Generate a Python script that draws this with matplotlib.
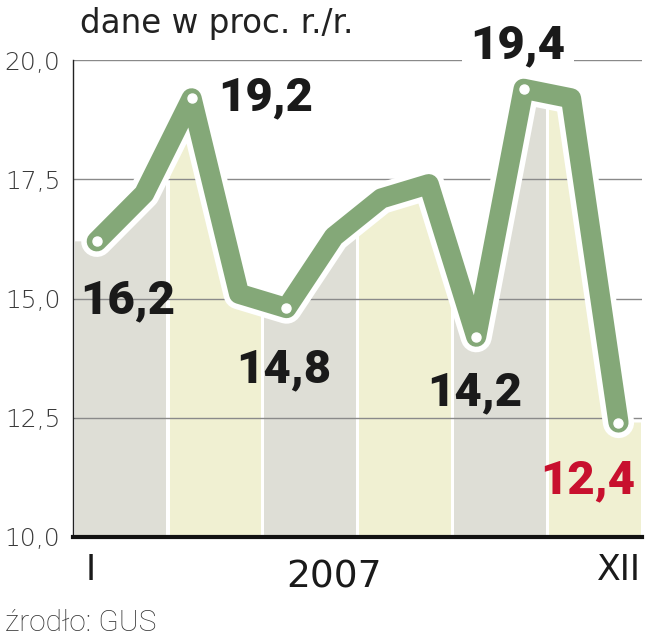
import numpy as np
import matplotlib.pyplot as plt
from matplotlib import patheffects as pe

# ---- data ----
months = ['I', 'II', 'III', 'IV', 'V', 'VI', 'VII', 'VIII', 'IX', 'X', 'XI', 'XII']
values = [16.2, 17.2, 19.2, 15.1, 14.8, 16.3, 17.1, 17.4, 14.2, 19.4, 19.2, 12.4]
label_idx = [0, 2, 4, 8, 9, 11]
label_txt = ['16,2', '19,2', '14,8', '14,2', '19,4', '12,4']
yticks = [10.0, 12.5, 15.0, 17.5, 20.0]
ytick_labels = ['10,0', '12,5', '15,0', '17,5', '20,0']
year = '2007'
title = 'dane w proc. r./r.'
source = 'źrodło: GUS'

GREEN = '#84a878'
GRAY = '#deded6'
YELLOW = '#f0f0d2'
RED = '#c8102e'
DARK = '#1a1a1a'

fig = plt.figure(figsize=(6.58, 6.40), dpi=100)
ax = fig.add_axes([0.111, 0.161, 0.865, 0.745])
x = np.arange(len(values))
ax.set_xlim(-0.5, len(values) - 0.5)
ax.set_ylim(10, 20)

# area under the line, used as a clip for the coloured month bands
xe = np.concatenate([[-0.5], x, [len(values) - 0.5]])
ye = np.concatenate([[values[0]], values, [values[-1]]])
poly = ax.fill_between(xe, ye, 10, color='none', lw=0)
clip_path = poly.get_paths()[0]
for i in range(0, len(values), 2):
    col = GRAY if (i // 2) % 2 == 0 else YELLOW
    span = ax.axvspan(i - 0.5 + 0.035, i + 1.5 - 0.035, color=col, lw=0, zorder=1)
    span.set_clip_path(clip_path, ax.transData)

# grid
for yt in yticks[1:]:
    ax.axhline(yt, color='#8a8a8a', lw=1.0, zorder=2)

# line with white outline
ax.plot(x, values, color=GREEN, lw=14.5, solid_joinstyle='round', solid_capstyle='round', zorder=4,
        path_effects=[pe.Stroke(linewidth=22.5, foreground='white'), pe.Normal()])
ax.plot(x[label_idx], np.array(values)[label_idx], 'o', ms=6.5, color='white', zorder=5)

# value labels
lab_pos = {0: (-0.35, 14.70), 2: (2.56, 18.95), 4: (2.94, 13.25),
           8: (6.96, 12.77), 9: (7.87, 20.04), 11: (9.35, 10.92)}
for i, t in zip(label_idx, label_txt):
    px, py = lab_pos[i]
    c = RED if i == len(values) - 1 else DARK
    kw = {}
    if i == 9:
        kw['bbox'] = dict(facecolor='white', edgecolor='none', pad=6)
    ax.text(px, py, t, fontsize=34, fontweight='black', family='Roboto', color=c,
            ha='left', va='baseline', zorder=6, **kw)

# axes styling
for s in ['top', 'right']:
    ax.spines[s].set_visible(False)
ax.spines['left'].set_linewidth(1.0)
ax.spines['left'].set_color('#222222')
ax.spines['bottom'].set_linewidth(3.0)
ax.spines['bottom'].set_color('#111111')
ax.spines['left'].set_zorder(7)
ax.spines['bottom'].set_zorder(7)
ax.set_yticks(yticks)
ax.set_yticklabels(ytick_labels, family='DejaVu Sans', fontweight='light', fontsize=18, color='#3a3a3a')
ax.tick_params(axis='y', length=0, pad=9)
ax.set_xticks([])

fig.text(91 / 658, 1 - 580 / 640, months[0], family='DejaVu Sans', fontsize=25, color=DARK,
         ha='center', va='baseline')
fig.text(641 / 658, 1 - 580 / 640, months[-1], family='DejaVu Sans', fontsize=25, color=DARK,
         ha='right', va='baseline')
fig.text(334 / 658, 1 - 587 / 640, year, family='DejaVu Sans', fontsize=27, color=DARK,
         ha='center', va='baseline')
fig.text(80 / 658, 1 - 33 / 640, title, family='DejaVu Sans', fontsize=23.5, color='#222222',
         ha='left', va='baseline')
fig.text(5 / 658, 1 - 631 / 640, source, family='Roboto', fontweight='light', fontsize=21.5,
         color='#333333', ha='left', va='baseline')

fig.savefig('out.png', dpi=100, facecolor='white')
